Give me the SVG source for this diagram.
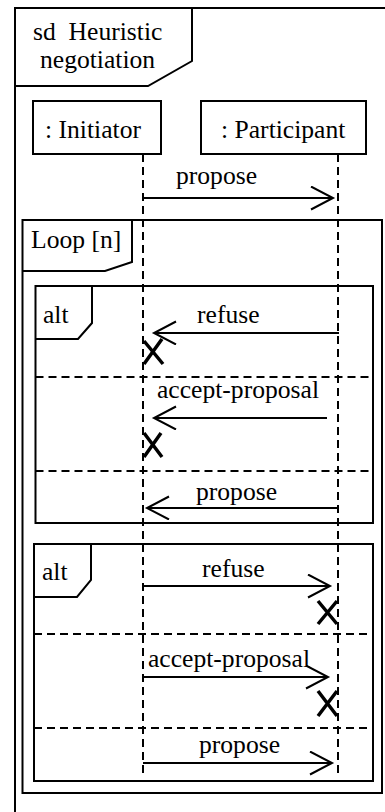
<svg xmlns="http://www.w3.org/2000/svg" width="385" height="812" viewBox="0 0 385 812" font-family="'Liberation Serif', 'Times New Roman', Times, serif">
<style>
text{font-family:'Liberation Serif','Times New Roman',Times,serif;font-size:25.6px;fill:#000}
.frame{fill:none;stroke:#000;stroke-width:2}
.box{fill:#fff;stroke:#000;stroke-width:2}
.life{stroke:#000;stroke-width:2;stroke-dasharray:8 5;fill:none}
.div{stroke:#000;stroke-width:2;stroke-dasharray:8 5;fill:none}
.msg{stroke:#000;stroke-width:2;fill:none;marker-end:url(#open)}
.x{stroke:#000;stroke-width:3.5;fill:none}
</style>
<defs>
<marker id="open" markerUnits="userSpaceOnUse" markerWidth="30" markerHeight="30" refX="23" refY="12" orient="auto">
<path d="M1,0.5 L23,12 L1,23.5" fill="none" stroke="#000" stroke-width="2"/>
</marker>
</defs>
<rect width="385" height="812" fill="#fff"/>
<g id="frame-sd">
<rect class="frame" x="15" y="8" width="400" height="830"/>
<path class="frame" d="M15,86 H148 L192,61 V8"/>
<text x="33" y="40" xml:space="preserve">sd  Heuristic</text>
<text x="40" y="68">negotiation</text>
</g>
<g id="initiator">
<rect class="box" x="33" y="101" width="128" height="53"/>
<text x="45" y="138">: Initiator</text>
</g>
<g id="participant">
<rect class="box" x="201" y="101" width="165" height="53"/>
<text x="221" y="138">: Participant</text>
</g>
<g id="loop">
<rect class="frame" x="22.5" y="220" width="359.5" height="573"/>
<path class="frame" d="M22.5,271 H105 L132,262 V220"/>
<text x="31" y="248">Loop [n]</text>
</g>
<g id="alt1">
<rect class="frame" x="35.5" y="286" width="337.5" height="237"/>
<path class="frame" d="M35.5,339 H78 L92,323 V286"/>
<text x="43" y="323">alt</text>
<line class="div" x1="35.5" y1="377" x2="373" y2="377"/>
<line class="div" x1="35.5" y1="471" x2="373" y2="471"/>
</g>
<g id="alt2">
<rect class="frame" x="34" y="544" width="339" height="237"/>
<path class="frame" d="M34,597 H77 L91,580 V544"/>
<text x="42" y="580">alt</text>
<line class="div" x1="34" y1="634" x2="373" y2="634"/>
<line class="div" x1="34" y1="728" x2="373" y2="728"/>
</g>
<g id="lifelines">
<line class="life" x1="143" y1="154" x2="143" y2="778"/>
<line class="life" x1="338" y1="154" x2="338" y2="778"/>
</g>
<g id="connectors">
<line class="msg" x1="143" y1="198" x2="333" y2="198"/>
<text x="176" y="184">propose</text>
<line class="msg" x1="339" y1="333" x2="154" y2="333"/>
<text x="197" y="323">refuse</text>
<line class="msg" x1="327" y1="418" x2="154" y2="418"/>
<text x="157" y="398">accept-proposal</text>
<line class="msg" x1="337" y1="508" x2="147" y2="508"/>
<text x="196" y="500">propose</text>
<line class="msg" x1="143" y1="586" x2="330" y2="586"/>
<text x="202" y="577">refuse</text>
<line class="msg" x1="143" y1="677" x2="328" y2="677"/>
<text x="148" y="667">accept-proposal</text>
<line class="msg" x1="143" y1="763" x2="332" y2="763"/>
<text x="199" y="753">propose</text>
</g>
<g id="destroy-marks">
<path class="x" d="M144,341 L163,364 M162,339 L144,364"/>
<path class="x" d="M144,433 L162,457 M161,433 L144,457"/>
<path class="x" d="M318,601 L337,624 M337,601 L318,624"/>
<path class="x" d="M318,691 L337,716 M337,691 L318,716"/>
</g>
</svg>
